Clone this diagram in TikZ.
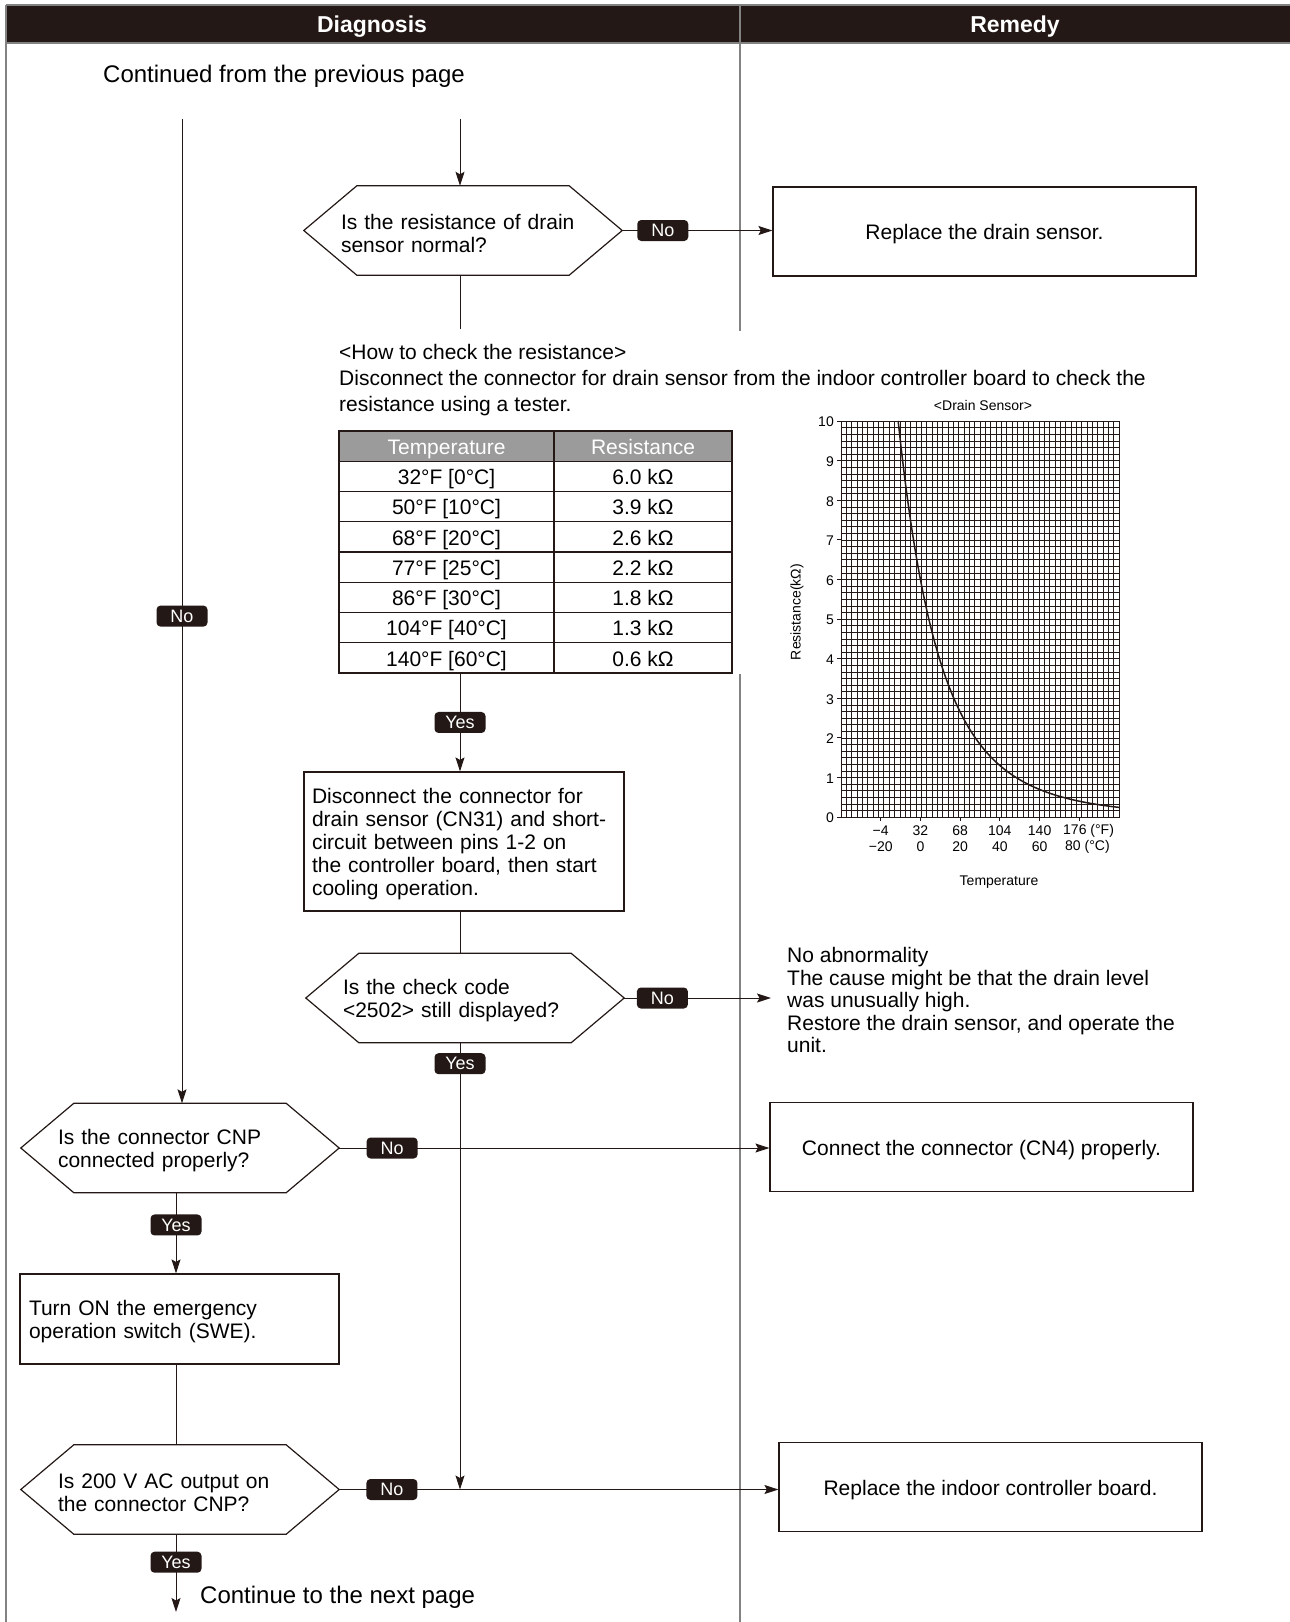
\documentclass[tikz,border=0pt]{standalone}
\usepackage{fontspec}
\setmainfont{Liberation Sans}
\definecolor{ink}{RGB}{35,24,21}
\definecolor{rulegray}{RGB}{130,130,130}
\definecolor{headgray}{RGB}{155,155,155}
\usetikzlibrary{arrows.meta}
\newcommand{\bodysize}{\fontsize{21pt}{23pt}\selectfont}
\newcommand{\bigsize}{\fontsize{24pt}{26pt}\selectfont}
\newcommand{\headsize}{\fontsize{23pt}{25pt}\selectfont\bfseries}
\newcommand{\tagsize}{\fontsize{18pt}{20pt}\selectfont}
\newcommand{\chartsize}{\fontsize{14pt}{16pt}\selectfont}
\tikzset{
  flow/.style={draw=ink, line width=1pt},
  arr/.style={flow, -{Stealth[length=14pt, width=9pt, inset=2.5pt]}},
  sink/.style={execute at begin node={\rule[-4.5pt]{0pt}{25.5pt}}},
  action/.style={draw=ink, line width=1.2pt, minimum width=423pt, minimum height=89pt, inner sep=0pt, font=\bodysize, align=center, sink},
  decision/.style={minimum width=318pt, minimum height=89pt, text width=244pt, inner sep=0pt, align=left, font=\bodysize, sink,
    append after command={\pgfextra{\draw[draw=ink, line width=1.2pt] ([xshift=53pt]\tikzlastnode.north west) -- ([xshift=-53pt]\tikzlastnode.north east) -- (\tikzlastnode.east) -- ([xshift=-53pt]\tikzlastnode.south east) -- ([xshift=53pt]\tikzlastnode.south west) -- (\tikzlastnode.west) -- cycle;}}},
  tag/.style={fill=ink, text=white, rounded corners=4pt, minimum width=51pt, minimum height=21pt, inner sep=0pt, font=\tagsize},
  cell/.style={draw=ink, line width=1.2pt, minimum width=215pt, minimum height=30.25pt, inner sep=0pt, font=\bodysize, sink},
  gridline/.style={draw=ink, line width=0.5pt},
  chartlbl/.style={font=\chartsize, inner sep=0pt}
}

\begin{document}
\begin{tikzpicture}[x=1pt, y=-1pt]
\useasboundingbox (0,0) rectangle (1290,1622);
% frame and header
\fill[ink] (6,5) rectangle (1290,43);
\draw[rulegray, line width=1.5pt] (6,5) -- (1290,5) (6,43) -- (1290,43) (740,5) -- (740,43);
\draw[rulegray, line width=1.2pt] (6,5) -- (6,1622);
\draw[rulegray, line width=1.2pt] (740,43) -- (740,331) (740,674) -- (740,1622);
\node[font=\headsize, text=white] (hdiag) at (372,27) {Diagnosis};
\node[font=\headsize, text=white] (hrem) at (1015,27) {Remedy};
\node[font=\bigsize, anchor=west, inner sep=0pt] (prev) at (103,76) {Continued from the previous page};

% steps
\node[decision] (d1) at (463,230.5) {Is the resistance of drain\\sensor normal?};
\node[action] (b1) at (984.5,231.5) {Replace the drain sensor.};
\node[font=\fontsize{21pt}{26pt}\selectfont, anchor=west, align=left, inner sep=0pt] (howto) at (339,380)
  {<How to check the resistance>\\Disconnect the connector for drain sensor from the indoor controller board to check the\\resistance using a tester.};
\node[action, minimum width=320pt, minimum height=139pt, text width=304pt, align=left] (b2) at (464,841.5)
  {Disconnect the connector for\\drain sensor (CN31) and short-\\circuit between pins 1-2 on\\the controller board, then start\\cooling operation.};
\node[decision] (d3) at (465,998) {Is the check code\\<2502> still displayed?};
\node[font=\fontsize{21pt}{22.5pt}\selectfont, anchor=west, align=left, inner xsep=16pt, inner ysep=0pt] (ok) at (771,1000)
  {No abnormality\\The cause might be that the drain level\\was unusually high.\\Restore the drain sensor, and operate the\\unit.};
\node[decision] (d4) at (180,1148) {Is the connector CNP\\connected properly?};
\node[action] (b4) at (981.5,1147) {Connect the connector (CN4) properly.};
\node[action, minimum width=319pt, minimum height=90pt, text width=301pt, align=left] (b5) at (179.5,1319)
  {Turn ON the emergency\\operation switch (SWE).};
\node[decision] (d5) at (180,1489.5) {Is 200 V AC output on\\the connector CNP?};
\node[action] (b6) at (990.5,1487) {Replace the indoor controller board.};
\node[font=\bigsize, anchor=west, inner sep=0pt] (next) at (200,1597) {Continue to the next page};

% table
\node[cell, fill=headgray, text=white] (t0) at (446.5,446.1) {Temperature};
\node[cell, fill=headgray, text=white, minimum width=178pt] (r0) at (643,446.1) {Resistance};
\foreach \tc/\rc [count=\i] in {32°F [0°C]/6.0 kΩ, 50°F [10°C]/3.9 kΩ, 68°F [20°C]/2.6 kΩ, 77°F [25°C]/2.2 kΩ,
    86°F [30°C]/1.8 kΩ, 104°F [40°C]/1.3 kΩ, 140°F [60°C]/0.6 kΩ} {
  \node[cell] (t\i) at (446.5,{446.1+30.25*\i}) {\tc};
  \node[cell, minimum width=178pt] (r\i) at (643,{446.1+30.25*\i}) {\rc};
}

% connectors
\coordinate (topM) at (460,119);
\coordinate (topL) at (182,119);
\coordinate (gap) at (460,329);
\coordinate (colL) at (176,1612);
\draw[arr] (topM) -- (topM |- d1.north);
\draw[arr] (d1.east) -- (d1.east -| b1.west) node[tag, pos=0.27] {No};
\draw[flow] (gap |- d1.south) -- (gap);
\draw[arr] (gap |- t7.south) -- (gap |- b2.north) node[tag, pos=0.5] {Yes};
\draw[flow] (gap |- b2.south) -- (gap |- d3.north);
\draw[arr] (d3.east) -- (d3.east -| ok.west) node[tag, pos=0.26] {No};
\draw[arr] (gap |- d3.south) -- (gap |- d5.east) node[tag, pos=0.047] {Yes};
\draw[arr] (topL) -- (topL |- d4.north) node[tag, pos=0.505] {No};
\draw[arr] (d4.east) -- (d4.east -| b4.west) node[tag, pos=0.123] {No};
\draw[arr] (colL |- d4.south) -- (colL |- b5.north) node[tag, pos=0.4] {Yes};
\draw[flow] (colL |- b5.south) -- (colL |- d5.north);
\draw[arr] (d5.east) -- (d5.east -| b6.west) node[tag, pos=0.12] {No};
\draw[arr] (colL |- d5.south) -- (colL) node[tag, pos=0.36] {Yes};

% drain sensor chart
\begin{scope}[shift={(920.4,817)}]
\begin{scope}[x=1.986pt, y=39.6pt]
  \foreach \k in {0,...,52} \draw[gridline] ({-40+\k*140/52},0) -- ++(0,10);
  \foreach \k in {0,...,60} \draw[gridline] (-40,{\k/6}) -- ++(140,0);
  \draw[ink, line width=0.8pt] (-40,0) rectangle (100,10);
  \foreach \v in {0,...,10} \draw[ink, line width=0.8pt] (-40,\v) -- ([xshift=-4pt]-40,\v);
  \foreach \c in {-20,0,...,80} \draw[ink, line width=0.8pt] (\c,0) -- ([yshift=-4pt]\c,0);
  \draw[ink, line width=1.5pt] plot[domain=-11.19:100, samples=90, smooth] (\x,{6*exp(-11.964*\x/(\x+273.15))});
\end{scope}
\end{scope}
\foreach \v in {0,...,10} \node[chartlbl, anchor=east] at (834,{818-39.6*\v}) {\v};
\foreach \xp/\f/\c in {880.7/−4/−20, 920.4/32/0, 960.1/68/20, 999.8/104/40, 1039.6/140/60} {
  \node[chartlbl] at (\xp,831) {\f};
  \node[chartlbl] at (\xp,847) {\c};
}
\node[chartlbl, anchor=west] at (1063,831) {176 (°F)};
\node[chartlbl, anchor=west] at (1065,847) {80 (°C)};
\node[chartlbl] (ctitle) at (983,405) {<Drain Sensor>};
\node[chartlbl, rotate=90] (cyl) at (797,612) {Resistance(kΩ)};
\node[chartlbl] (cxl) at (999,882) {Temperature};
\end{tikzpicture}
\end{document}
